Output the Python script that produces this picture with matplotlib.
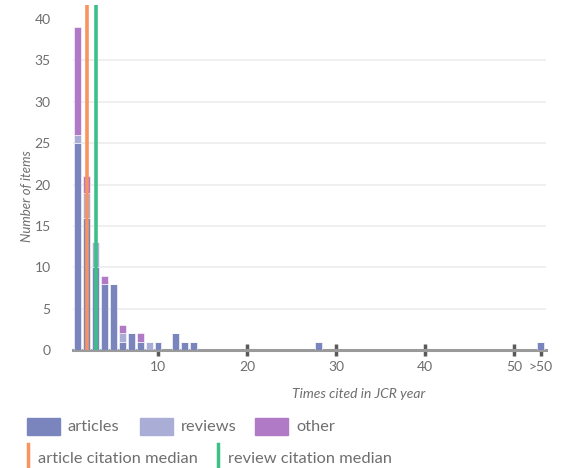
import numpy as np
import matplotlib.pyplot as plt
from matplotlib.patches import Rectangle
from matplotlib.lines import Line2D

plt.rcParams['font.family'] = ['Lato', 'DejaVu Sans']

# times cited (53 stands for ">50")
cites = [1, 2, 3, 4, 5, 6, 7, 8, 9, 10, 12, 13, 14, 28, 53]
articles = [25, 16, 10, 8, 8, 1, 2, 1, 0, 1, 2, 1, 1, 1, 1]
reviews = [1, 3, 3, 0, 0, 1, 0, 0, 1, 0, 0, 0, 0, 0, 0]
other = [13, 2, 0, 1, 0, 1, 0, 1, 0, 0, 0, 0, 0, 0, 0]
article_median = 2
review_median = 3
xticks = [10, 20, 30, 40, 50, 53]
xticklabels = ['10', '20', '30', '40', '50', '>50']
yticks = [0, 5, 10, 15, 20, 25, 30, 35, 40]

c_art = '#7b85bd'
c_rev = '#aaaed7'
c_oth = '#b07ac6'
c_amed = '#f7945f'
c_rmed = '#3dbf88'
grey = '#6e6e6e'

fig = plt.figure(figsize=(5.61, 4.68), dpi=100)
ax = fig.add_axes([73/561, 118/468, 473/561, 345/468])

a = np.array(articles)
r = np.array(reviews)
o = np.array(other)
ax.bar(cites, a, width=0.78, color=c_art, edgecolor='white', linewidth=0.4, zorder=3)
ax.bar(cites, r, bottom=a, width=0.78, color=c_rev, edgecolor='white', linewidth=0.4, zorder=3)
ax.bar(cites, o, bottom=a + r, width=0.78, color=c_oth, edgecolor='white', linewidth=0.4, zorder=3)

ax.axvline(article_median, color=c_amed, lw=2.6, zorder=4)
ax.axvline(review_median, color=c_rmed, lw=2.6, zorder=4)

ax.set_xlim(0.45, 53.6)
ax.set_ylim(0, 41.7)
ax.set_yticks(yticks)
ax.set_xticks(xticks)
ax.set_xticklabels(xticklabels)
# light grid lines (none at the top tick)
for yv in yticks[1:-1]:
    ax.axhline(yv, color='#ececf0', lw=1.2, zorder=0)
for s in ['top', 'right', 'left']:
    ax.spines[s].set_visible(False)
ax.spines['bottom'].set_color('#9a9a9a')
ax.spines['bottom'].set_linewidth(2.2)
ax.spines['bottom'].set_zorder(2.6)
ax.tick_params(axis='y', length=0, pad=16, labelsize=10, labelcolor=grey)
ax.tick_params(axis='x', direction='inout', length=8, width=2.5, color='#5a5a5a',
               pad=4, labelsize=10, labelcolor=grey)
ax.set_ylabel('Number of items', fontstyle='italic', color=grey, fontsize=9.5)
ax.yaxis.set_label_coords(-0.084, 0.446)
ax.set_xlabel('Times cited in JCR year', fontstyle='italic', color=grey, fontsize=10)
ax.xaxis.set_label_coords(0.603, -0.11)

# legend
def px(x, y):
    return x / 561, 1 - y / 468

row1 = [('articles', c_art, 27), ('reviews', c_rev, 140), ('other', c_oth, 255)]
for lab, col, x0 in row1:
    fig.patches.append(Rectangle(px(x0, 435), 33/561, 17/468, transform=fig.transFigure,
                                 color=col, figure=fig))
    fig.text(*px(x0 + 41, 427), lab, color=grey, fontsize=11.8, va='center', ha='left')

row2 = [('article citation median', c_amed, 28), ('review citation median', c_rmed, 218)]
for lab, col, x0 in row2:
    fig.lines.append(Line2D([x0/561, x0/561], [0, 1 - 444/468], transform=fig.transFigure,
                            color=col, lw=2.5, figure=fig))
    fig.text(*px(x0 + 10, 459), lab, color=grey, fontsize=11.8, va='center', ha='left')

fig.savefig('out.png', dpi=100)
